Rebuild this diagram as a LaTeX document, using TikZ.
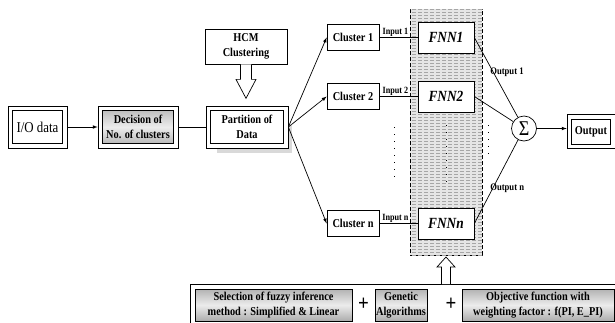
\documentclass[tikz,border=0pt]{standalone}
\usepackage{fontspec}
\setmainfont[FakeStretch=0.86]{Liberation Serif}
\usetikzlibrary{arrows, positioning, patterns}

\begin{document}
\begin{tikzpicture}[x=1pt, y=-1pt, line width=0.7pt, >=latex,
    txt/.style={font=\fontsize{12}{15.5}\selectfont\bfseries, align=center, inner sep=0pt},
    dbox/.style={draw, fill=white, minimum height=42pt, txt,
        path picture={\draw[#1] ([xshift=4.5pt,yshift=-4.5pt]path picture bounding box.north west)
            rectangle ([xshift=-4.5pt,yshift=4.5pt]path picture bounding box.south east);}},
    dbox/.default={},
    sbox/.style={draw, fill=white, txt},
    grad/.style={top color=gray!60, bottom color=gray!65, middle color=gray!15},
    lbl/.style={font=\fontsize{9.5}{10}\selectfont\bfseries, inner sep=1pt}]

    \useasboundingbox (0,0) rectangle (615,322);
    \clip (0,0) rectangle (615,322);

    % left chain
    \node[dbox, minimum width=59pt, font=\fontsize{15}{16}\selectfont] (iodata) at (37.5,127) {I/O data};
    \node[dbox={grad}, minimum width=80pt] (decision) at (138,127) {Decision of\\No. of clusters};
    \fill[gray!30] (217,125) rectangle (292,153);
    \node[dbox, minimum width=82pt] (part) at (247,127) {Partition of\\Data};
    \draw[->] (iodata) -- (decision);
    \draw (decision) -- (part);

    \node[sbox, minimum width=82pt, minimum height=35pt] (hcm) at (246,46.5) {HCM\\Clustering};
    \draw[fill=white] ([xshift=-5.5pt]hcm.south) -- ++(0,15) -- ++(-4.5,0) -- ++(10,19) -- ++(10,-19) -- ++(-4.5,0) -- ([xshift=5.5pt]hcm.south);

    % networks
    \node[draw, dash pattern=on 4pt off 2pt, minimum width=72pt, minimum height=246pt, fill=gray!20,
          postaction={pattern=horizontal lines, pattern color=gray!70}] (band) at (446,132) {};
    \node[draw, circle, minimum size=25pt, inner sep=0pt, font=\fontsize{21}{21}\selectfont] (sigma) at (524,128.5) {Σ};

    \foreach \k / \yy in {1/37.5, 2/96.5, n/223.5} {
        \node[sbox, minimum width=52pt, minimum height=25.5pt] (c\k) at (353,\yy) {Cluster \k};
        \node[sbox, minimum width=56pt, minimum height=31pt, font=\fontsize{15.5}{16}\selectfont\bfseries\itshape] (f\k) at (446,\yy) {FNN\k};
        \draw[->] (part.east) -- (c\k.west);
        \draw (c\k) -- node[lbl, above, pos=0.42] {Input \k} (f\k);
        \draw (f\k.east) -- (sigma);
    }
    \node[lbl, font=\fontsize{10}{10}\selectfont\bfseries, anchor=west] (out1) at (489,72) {Output 1};
    \node[lbl, font=\fontsize{10}{10}\selectfont\bfseries, anchor=west] (outn) at (489,188) {Output n};

    \foreach \xx / \ya / \yb in {394/127/182, 446/125/184, 488/125/160}
        \draw[dash pattern=on 1pt off 6pt] (\xx,\ya) -- (\xx,\yb);

    \node[dbox, minimum width=48pt, minimum height=34pt] (output) at (591,131.5) {Output};
    \draw[->] (sigma) -- (sigma -| output.west);

    % optimisation
    \draw (190,330) |- (620,284);
    \coordinate (mtop) at (446,284);
    \draw[fill=white] ([xshift=-4.5pt]mtop) -- ++(0,-17) -- ++(-4.5,0) -- ++(9,-10) -- ++(9,10) -- ++(-4.5,0) -- ([xshift=4.5pt]mtop);
    \node[sbox, grad, minimum width=157pt, minimum height=32pt] (sel) at (273.5,305) {Selection of fuzzy inference\\method : Simplified \& Linear};
    \node[sbox, grad, minimum width=52pt, minimum height=32pt] (gen) at (401,305) {Genetic\\Algorithms};
    \node[sbox, grad, minimum width=152pt, minimum height=32pt] (obj) at (538,305) {Objective function with\\weighting factor : f(PI, E\_PI)};
    \node[txt, font=\fontsize{22}{22}\selectfont\bfseries] (plusa) at (363.5,304) {+};
    \node[txt, font=\fontsize{22}{22}\selectfont\bfseries] (plusb) at (451,304) {+};

\end{tikzpicture}
\end{document}
